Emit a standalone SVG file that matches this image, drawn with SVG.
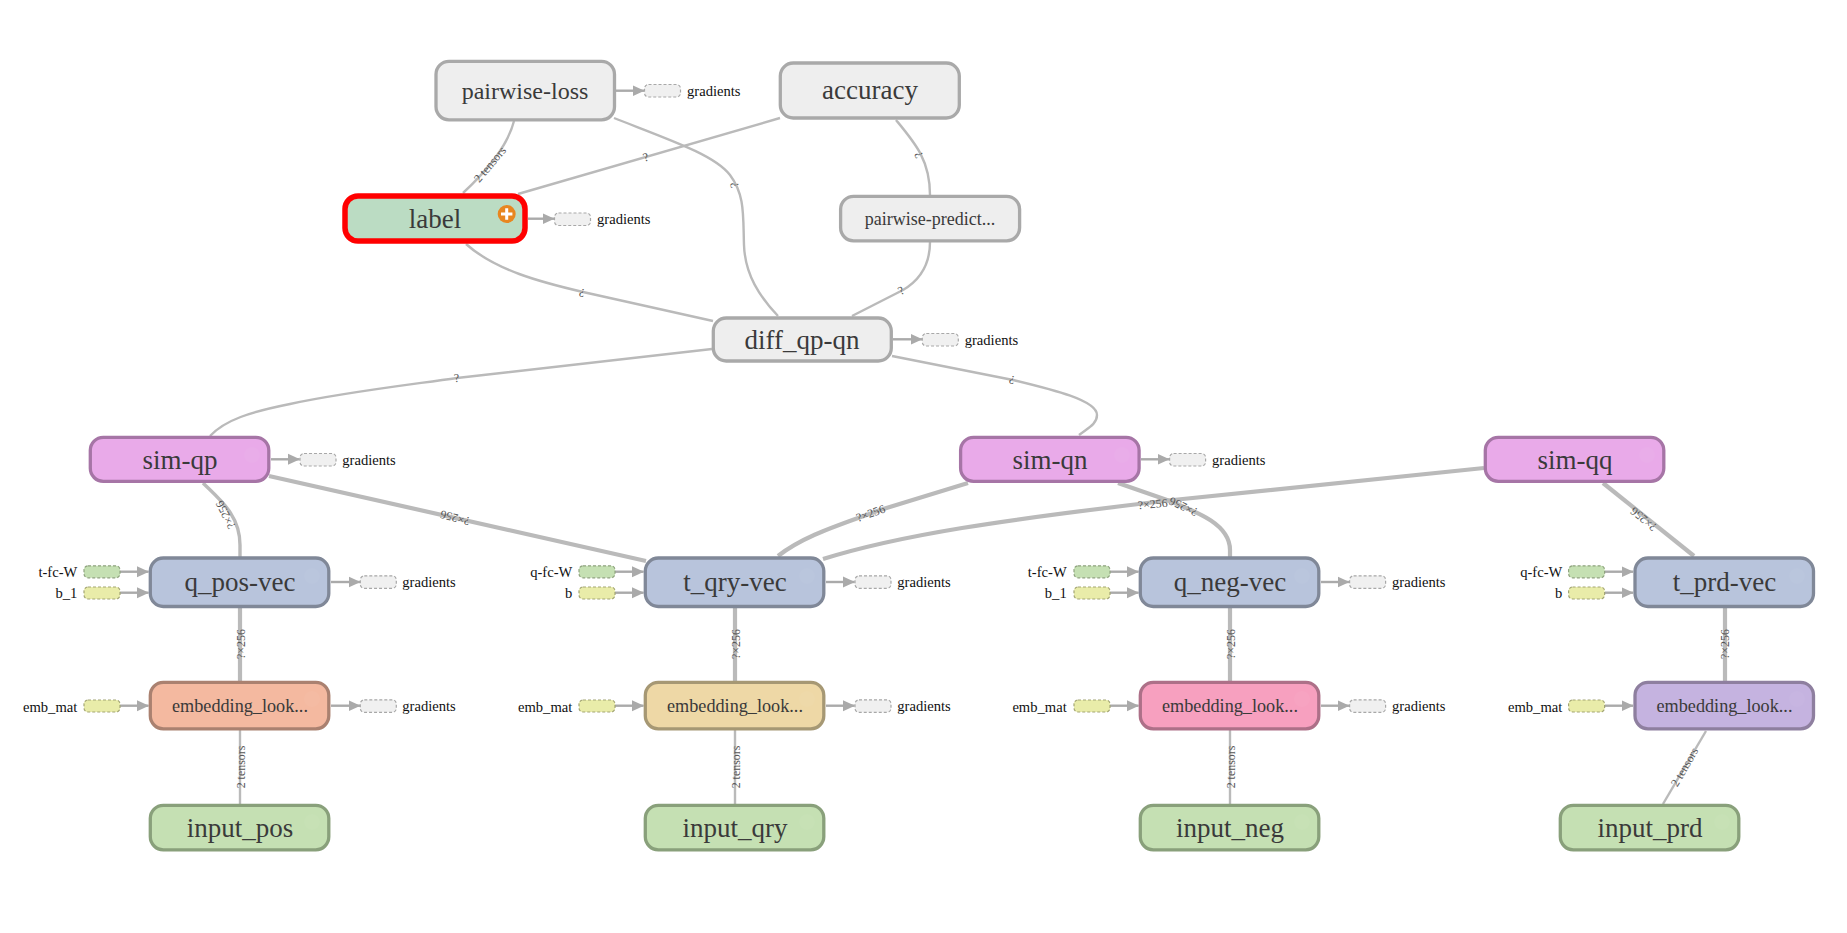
<svg xmlns="http://www.w3.org/2000/svg" width="1847" height="933" viewBox="0 0 1847 933">
<defs>
<marker id="ah" markerUnits="userSpaceOnUse" markerWidth="12" markerHeight="12" refX="11.5" refY="6" orient="auto"><path d="M0,0.5 L12,6 L0,11.5 Z" fill="#aaa"/></marker>
</defs>
<style>
text{font-family:"Liberation Serif","Times New Roman",serif}
.n rect.b{stroke-width:3.3}
.t{text-anchor:middle;fill:#3a3a3a;font-size:27px}
.t25{font-size:24px}.t19{font-size:18.2px}.t18{font-size:18px}
.g{fill:#f0f0f0;stroke:#a8a8a8;stroke-width:1.2;stroke-dasharray:3 2}
.gg{fill:#c5e0b3;stroke:#8fa37f;stroke-width:1.2;stroke-dasharray:3 2}
.gy{fill:#e9eca9;stroke:#a3a575;stroke-width:1.2;stroke-dasharray:3 2}
.s{font-size:14.6px;fill:#111}
.r{text-anchor:end}
.a{fill:none;stroke:#aaa;stroke-width:2.4;marker-end:url(#ah)}
.e{fill:none;stroke:#bababa;stroke-width:2.4}
.e2{fill:none;stroke:#bababa;stroke-width:4.2}
.e3{fill:none;stroke:#bababa;stroke-width:3.4}
.l{font-size:11.9px;fill:#555;text-anchor:middle}
.grey{fill:#eee;stroke:#a9a9a9}
.sim{fill:#e9aae9;stroke:#a675a6}
.vec{fill:#b8c4dc;stroke:#808898}
.inp{fill:#c5e0b3;stroke:#89a07b}
.ghost{fill:#fff;opacity:.035}
</style>
<g id="connectors">
<path class="e" d="M514,121 C508,145 490,168 463,193"/>
<path class="e" d="M780,118 L518,194"/>
<path class="e" d="M614,118 C670,140 715,155 730,175 C745,195 743,215 744,245 C745,275 760,297 778,316"/>
<path class="e" d="M466,244 C495,270 540,282 583,292 L713,321"/>
<path class="e" d="M896,120 C915,143 930,160 930,195"/>
<path class="e" d="M930,242 C930,265 920,280 903,290 L852,316"/>
<path class="e" d="M712,349 L457,378 C400,386 340,393 290,404 C250,412 225,420 210,436"/>
<path class="e" d="M892,356 L1013,380 C1050,389 1097,400 1097,415 C1097,424 1088,428 1079,435"/>
<path class="e3" d="M203,483 C220,500 240,515 240,545 V557"/>
<path class="e2" d="M269,476 L646,561"/>
<path class="e2" d="M968,483 L880,510 C840,525 805,535 778,556"/>
<path class="e2" d="M1484,468 L1173,500 C1000,520 900,535 823,559"/>
<path class="e2" d="M1118,483 L1167,500 C1200,513 1230,525 1230,550 V557"/>
<path class="e2" d="M1603,483 L1694,556"/>
<path class="e2" d="M240,607 V682"/><path class="e2" d="M735,607 V682"/><path class="e2" d="M1230,607 V682"/><path class="e2" d="M1725,607 V682"/>
<path class="e" d="M240,730 V805"/><path class="e" d="M735,730 V805"/><path class="e" d="M1230,730 V805"/><path class="e" d="M1706,731 L1663,804"/>
<g id="edge-labels">
<text class="l" transform="translate(493,167) rotate(-50)">2 tensors</text>
<text class="l" transform="translate(647,161) rotate(-18)">?</text>
<text class="l" transform="translate(738,184) rotate(-105)">?</text>
<text class="l" transform="translate(583,289) rotate(195)">?</text>
<text class="l" transform="translate(922,153) rotate(-120)">?</text>
<text class="l" transform="translate(903,294) rotate(-30)">?</text>
<text class="l" transform="translate(457,382) rotate(-7)">?</text>
<text class="l" transform="translate(1013,376) rotate(195)">?</text>
<text class="l" transform="translate(229,513) rotate(243)">?×256</text>
<text class="l" transform="translate(456,514) rotate(195)">?×256</text>
<text class="l" transform="translate(872,517) rotate(-20)">?×256</text>
<text class="l" transform="translate(1153,508) rotate(-5)">?×256</text>
<text class="l" transform="translate(1185,503) rotate(205)">?×256</text>
<text class="l" transform="translate(1646,516) rotate(219)">?×256</text>
<text class="l" transform="translate(244.5,644) rotate(-90)">?×256</text>
<text class="l" transform="translate(739.5,644) rotate(-90)">?×256</text>
<text class="l" transform="translate(1234.5,644) rotate(-90)">?×256</text>
<text class="l" transform="translate(1729,644) rotate(-90)">?×256</text>
<text class="l" transform="translate(244.5,767) rotate(-90)">2 tensors</text>
<text class="l" transform="translate(739.5,767) rotate(-90)">2 tensors</text>
<text class="l" transform="translate(1234.5,767) rotate(-90)">2 tensors</text>
<text class="l" transform="translate(1688,769) rotate(-60)">2 tensors</text>
</g>
</g>
<g id="pairwise-loss" class="n"><path class="a" d="M616,90.7 H644"/><rect class="g" x="644.5" y="84.5" width="36" height="12.5" rx="4"/><text class="s" x="687" y="95.5">gradients</text><rect class="b grey" x="436" y="61.3" width="178.5" height="58.5" rx="13"/><circle class="ghost" cx="597" cy="79" r="8"/><text class="t t25" x="525" y="99.3">pairwise-loss</text></g>
<g id="accuracy" class="n"><rect class="b grey" x="780.3" y="63" width="179" height="55" rx="13"/><circle class="ghost" cx="942" cy="81" r="8"/><text class="t" x="870" y="99.3">accuracy</text></g>
<g id="label" class="n"><path class="a" d="M528,218.7 H554"/><rect class="g" x="554.5" y="213" width="36" height="12.5" rx="4"/><text class="s" x="597" y="224">gradients</text><rect x="345" y="196" width="180" height="45" rx="13" fill="#bbdcc3" stroke="#f00" stroke-width="5.5"/><text class="t" x="435" y="228">label</text><circle cx="506.7" cy="214" r="9" fill="#e8861f"/><path d="M501,214 H512.4 M506.7,208.3 V219.7" stroke="#fff" stroke-width="3" fill="none"/></g>
<g id="pairwise-predict" class="n"><rect class="b grey" x="840.6" y="196.3" width="179" height="44.5" rx="13"/><circle class="ghost" cx="1002" cy="213" r="8"/><text class="t t18" x="930" y="225.3">pairwise-predict...</text></g>
<g id="diff_qp-qn" class="n"><path class="a" d="M893,339.3 H922"/><rect class="g" x="922.3" y="333.5" width="36" height="12.5" rx="4"/><text class="s" x="964.7" y="344.5">gradients</text><rect class="b grey" x="713.3" y="318" width="178" height="43" rx="13"/><circle class="ghost" cx="876.7" cy="336.7" r="8"/><text class="t" x="802" y="349.3">diff_qp-qn</text></g>
<g id="sim-qp" class="n"><path class="a" d="M271,459.3 H299.5"/><rect class="g" x="300" y="453.5" width="36" height="12.5" rx="4"/><text class="s" x="342.3" y="464.5">gradients</text><rect class="b sim" x="90.3" y="437.3" width="178.5" height="44" rx="13"/><circle class="ghost" cx="252" cy="455" r="8"/><text class="t" x="180" y="469.3">sim-qp</text></g>
<g id="sim-qn" class="n"><path class="a" d="M1141,459.3 H1169"/><rect class="g" x="1169.6" y="453.5" width="36" height="12.5" rx="4"/><text class="s" x="1212" y="464.5">gradients</text><rect class="b sim" x="960.6" y="437.3" width="178.5" height="44" rx="13"/><circle class="ghost" cx="1122" cy="455" r="8"/><text class="t" x="1050" y="469.3">sim-qn</text></g>
<g id="sim-qq" class="n"><rect class="b sim" x="1485.3" y="437.3" width="178.5" height="44" rx="13"/><circle class="ghost" cx="1647" cy="455" r="8"/><text class="t" x="1575" y="469.3">sim-qq</text></g>

<g id="q_pos-vec" class="n"><path class="a" d="M120,571.7 H148.5"/><path class="a" d="M120,592.7 H148.5"/><rect class="gg" x="84" y="565.8" width="36" height="12" rx="4"/><rect class="gy" x="84" y="587" width="36" height="12" rx="4"/><text class="s r" x="77.3" y="576.7">t-fc-W</text><text class="s r" x="77.3" y="598">b_1</text><path class="a" d="M331,582 H360"/><rect class="g" x="360.3" y="575.8" width="36" height="12.5" rx="4"/><text class="s" x="402.3" y="587">gradients</text><rect class="b vec" x="150.3" y="558" width="178.5" height="48.5" rx="13"/><circle class="ghost" cx="312" cy="576" r="8"/><text class="t" x="240" y="590.7">q_pos-vec</text></g>
<g id="t_qry-vec" class="n"><path class="a" d="M615,571.7 H643.5"/><path class="a" d="M615,592.7 H643.5"/><rect class="gg" x="579" y="565.8" width="36" height="12" rx="4"/><rect class="gy" x="579" y="587" width="36" height="12" rx="4"/><text class="s r" x="572.3" y="576.7">q-fc-W</text><text class="s r" x="572.3" y="598">b</text><path class="a" d="M826,582 H854.5"/><rect class="g" x="855" y="575.8" width="36" height="12.5" rx="4"/><text class="s" x="897.3" y="587">gradients</text><rect class="b vec" x="645.3" y="558" width="178.5" height="48.5" rx="13"/><circle class="ghost" cx="807" cy="576" r="8"/><text class="t" x="735" y="590.7">t_qry-vec</text></g>
<g id="q_neg-vec" class="n"><path class="a" d="M1110,571.7 H1138.5"/><path class="a" d="M1110,592.7 H1138.5"/><rect class="gg" x="1074" y="565.8" width="36" height="12" rx="4"/><rect class="gy" x="1074" y="587" width="36" height="12" rx="4"/><text class="s r" x="1066.7" y="576.7">t-fc-W</text><text class="s r" x="1066.7" y="598">b_1</text><path class="a" d="M1321,582 H1349"/><rect class="g" x="1349.6" y="575.8" width="36" height="12.5" rx="4"/><text class="s" x="1392" y="587">gradients</text><rect class="b vec" x="1140.3" y="558" width="178.5" height="48.5" rx="13"/><circle class="ghost" cx="1302" cy="576" r="8"/><text class="t" x="1230" y="590.7">q_neg-vec</text></g>
<g id="t_prd-vec" class="n"><path class="a" d="M1605,571.7 H1633"/><path class="a" d="M1605,592.7 H1633"/><rect class="gg" x="1568.6" y="565.8" width="36" height="12" rx="4"/><rect class="gy" x="1568.6" y="587" width="36" height="12" rx="4"/><text class="s r" x="1562.3" y="576.7">q-fc-W</text><text class="s r" x="1562.3" y="598">b</text><rect class="b vec" x="1635" y="558" width="178.5" height="48.5" rx="13"/><circle class="ghost" cx="1797" cy="576" r="8"/><text class="t" x="1724.5" y="590.7">t_prd-vec</text></g>

<g id="embedding-pos" class="n"><path class="a" d="M120,705.7 H148.5"/><rect class="gy" x="84" y="700" width="36" height="12" rx="4"/><text class="s r" x="77.3" y="711.7">emb_mat</text><path class="a" d="M331,705.7 H360"/><rect class="g" x="360.3" y="699.8" width="36" height="12.5" rx="4"/><text class="s" x="402.3" y="711">gradients</text><rect class="b" x="150.3" y="682.3" width="178.5" height="46.5" rx="13" fill="#f4b9a0" stroke="#aa8170"/><circle class="ghost" cx="312" cy="699" r="8"/><text class="t t19" x="240" y="712">embedding_look...</text></g>
<g id="embedding-qry" class="n"><path class="a" d="M615,705.7 H643.5"/><rect class="gy" x="579" y="700" width="36" height="12" rx="4"/><text class="s r" x="572.3" y="711.7">emb_mat</text><path class="a" d="M826,705.7 H854.5"/><rect class="g" x="855" y="699.8" width="36" height="12.5" rx="4"/><text class="s" x="897.3" y="711">gradients</text><rect class="b" x="645.3" y="682.3" width="178.5" height="46.5" rx="13" fill="#eed8a6" stroke="#a69874"/><circle class="ghost" cx="807" cy="699" r="8"/><text class="t t19" x="735" y="712">embedding_look...</text></g>
<g id="embedding-neg" class="n"><path class="a" d="M1110,705.7 H1138.5"/><rect class="gy" x="1074" y="700" width="36" height="12" rx="4"/><text class="s r" x="1066.7" y="711.7">emb_mat</text><path class="a" d="M1321,705.7 H1349"/><rect class="g" x="1349.6" y="699.8" width="36" height="12.5" rx="4"/><text class="s" x="1392" y="711">gradients</text><rect class="b" x="1140.3" y="682.3" width="178.5" height="46.5" rx="13" fill="#f7a0bf" stroke="#ad7088"/><circle class="ghost" cx="1302" cy="699" r="8"/><text class="t t19" x="1230" y="712">embedding_look...</text></g>
<g id="embedding-prd" class="n"><path class="a" d="M1605,705.7 H1633"/><rect class="gy" x="1568.6" y="700" width="36" height="12" rx="4"/><text class="s r" x="1562.3" y="711.7">emb_mat</text><rect class="b" x="1635" y="682.3" width="178.5" height="46.5" rx="13" fill="#c5b3e0" stroke="#8e7f9f"/><circle class="ghost" cx="1797" cy="699" r="8"/><text class="t t19" x="1724.5" y="712">embedding_look...</text></g>

<g id="input_pos" class="n"><rect class="b inp" x="150.3" y="805.3" width="178.5" height="44.5" rx="13"/><circle class="ghost" cx="312" cy="822" r="8"/><text class="t" x="240" y="836.7">input_pos</text></g>
<g id="input_qry" class="n"><rect class="b inp" x="645.3" y="805.3" width="178.5" height="44.5" rx="13"/><circle class="ghost" cx="807" cy="822" r="8"/><text class="t" x="735" y="836.7">input_qry</text></g>
<g id="input_neg" class="n"><rect class="b inp" x="1140.3" y="805.3" width="178.5" height="44.5" rx="13"/><circle class="ghost" cx="1302" cy="822" r="8"/><text class="t" x="1230" y="836.7">input_neg</text></g>
<g id="input_prd" class="n"><rect class="b inp" x="1560.3" y="805.3" width="178.5" height="44.5" rx="13"/><circle class="ghost" cx="1722" cy="822" r="8"/><text class="t" x="1650" y="836.7">input_prd</text></g>
</svg>
